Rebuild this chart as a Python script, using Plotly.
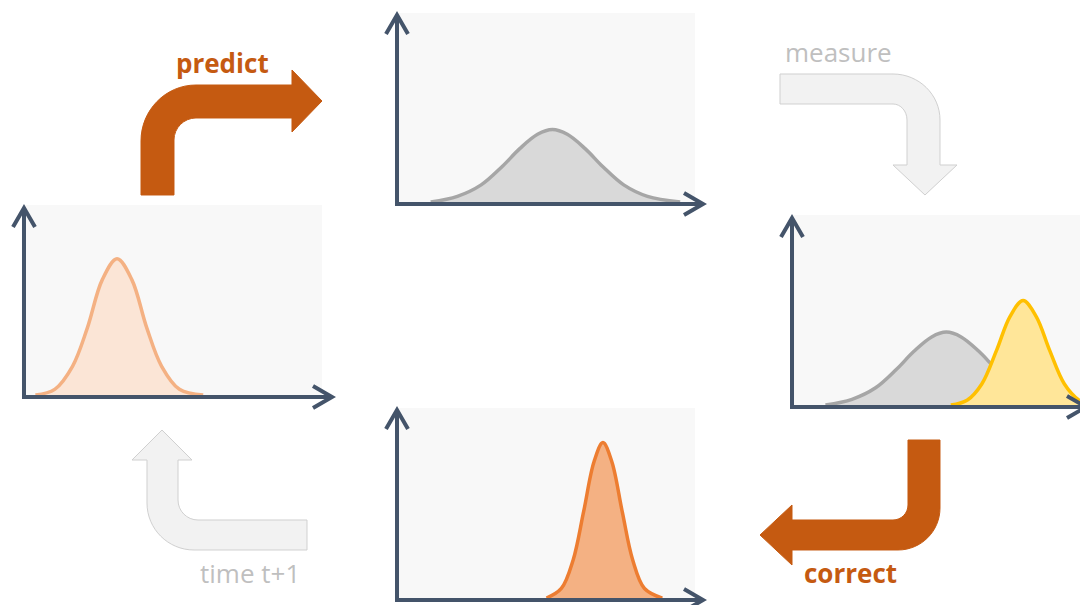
"""
Predict / measure / correct cycle drawn as four small distribution panels
joined by bent arrows.
"""

import plotly.graph_objects as go

# page is 1088x605 but the browser puts an 8px body margin around the plot
PAGE_W, PAGE_H = 1088, 605
OFF = 8
W, H = PAGE_W - OFF, PAGE_H - OFF

# Curve samples (x on a 0..10 panel scale, y on 0..1)
estimate_x = [0.35, 1.0, 1.6, 2.1, 2.6, 3.1, 3.6, 4.1, 4.6, 5.2, 6.0]
estimate_y = [0.01, 0.04, 0.16, 0.36, 0.61, 0.72, 0.61, 0.36, 0.16, 0.04, 0.01]

predicted_x = [1.1, 2.0, 2.8, 3.5, 4.1, 4.7, 5.2, 5.7, 6.3, 6.9, 7.6, 8.4, 9.5]
predicted_y = [0.01, 0.04, 0.10, 0.195, 0.29, 0.365, 0.39, 0.365, 0.29, 0.195, 0.10, 0.04, 0.01]

measured_x = [5.35, 5.9, 6.4, 6.9, 7.35, 7.8, 8.25, 8.7, 9.2, 9.7, 10.0]
measured_y = [0.01, 0.035, 0.12, 0.295, 0.47, 0.555, 0.47, 0.295, 0.12, 0.035, 0.015]

corrected_x = [5.0, 5.5, 5.9, 6.25, 6.6, 6.9, 7.2, 7.55, 7.9, 8.3, 8.9]
corrected_y = [0.01, 0.06, 0.21, 0.46, 0.72, 0.82, 0.72, 0.46, 0.21, 0.06, 0.01]

step_labels = ['predict', 'measure', 'correct', 'time t+1']

ORANGE_DARK = '#C55A11'
AXIS_COLOR = '#44546A'
LIGHT_FILL = '#F2F2F2'
LIGHT_LINE = '#D0D0D0'
LIGHT_TEXT = '#BFBFBF'


def px_x(x):
    return (x - OFF) / W


def px_y(y):
    return 1 - (y - OFF) / H


def pt(x, y):
    """Page pixel position -> paper coordinates string."""
    return f"{px_x(x):.5f},{px_y(y):.5f}"


def arc(p0, c, p1, k=0.552):
    """Cubic bezier from p0 to p1 bending round corner c."""
    c1 = (p0[0] + k * (c[0] - p0[0]), p0[1] + k * (c[1] - p0[1]))
    c2 = (p1[0] + k * (c[0] - p1[0]), p1[1] + k * (c[1] - p1[1]))
    return f"C{pt(*c1)} {pt(*c2)} {pt(*p1)}"


def poly(points):
    return " ".join(f"L{pt(*p)}" for p in points)


# panel boxes in page pixels: (left, right, top, bottom)
panels = {
    'x': (25, 322, 205, 397),
    'x2': (398, 695, 13, 204),
    'x3': (793, 1088, 215, 407),
    'x4': (398, 695, 408, 600),
}

fig = go.Figure()


def add_curve(xs, ys, axis, line, fill):
    n = '' if axis == 'x' else axis[1:]
    fig.add_trace(go.Scatter(
        x=xs, y=ys, mode='lines', line=dict(color=line, width=3.5, shape='spline'),
        fill='tozeroy', fillcolor=fill, hoverinfo='skip', showlegend=False,
        xaxis='x' + n, yaxis='y' + n
    ))


add_curve(estimate_x, estimate_y, 'x', '#F4B183', '#FBE5D6')
add_curve(predicted_x, predicted_y, 'x2', '#A6A6A6', '#D9D9D9')
add_curve(predicted_x, predicted_y, 'x3', '#A6A6A6', '#D9D9D9')
add_curve(measured_x, measured_y, 'x3', '#FFC000', '#FFE699')
add_curve(corrected_x, corrected_y, 'x4', '#ED7D31', '#F4B183')

layout_axes = {}
for name, (l, r, t, b) in panels.items():
    n = name[1:]
    layout_axes['xaxis' + n] = dict(domain=[px_x(l), min(px_x(r), 1)], range=[0, 10], visible=False,
                                    anchor='y' + n, fixedrange=True)
    layout_axes['yaxis' + n] = dict(domain=[px_y(b), px_y(t)], range=[0, 1], visible=False,
                                    anchor='x' + n, fixedrange=True)

shapes = []

# axis arrows for every panel: (x of y-axis, y of x-axis, top tip, right tip)
axis_lines = [(24, 397, 208, 332), (397, 204, 15, 703), (792, 407, 218, 1086), (397, 600, 410, 703)]
for x0, y0, top, right in axis_lines:
    path = (f"M{pt(x0, top)} L{pt(x0, y0)} L{pt(right, y0)} "
            f"M{pt(x0 - 11, top + 19)} L{pt(x0, top)} L{pt(x0 + 11, top + 19)} "
            f"M{pt(right - 19, y0 - 11)} L{pt(right, y0)} L{pt(right - 19, y0 + 11)}")
    shapes.append(dict(type='path', xref='paper', yref='paper', path=path,
                       line=dict(color=AXIS_COLOR, width=4)))

# predict arrow
predict_path = (f"M{pt(141, 195)} L{pt(141, 141)} " + arc((141, 141), (141, 85), (196, 85)) + " "
                + poly([(292, 85), (292, 70), (322, 101), (292, 132), (292, 118), (196, 118)]) + " "
                + arc((196, 118), (174, 118), (174, 140)) + f" L{pt(174, 195)} Z")
# measure arrow
measure_path = (f"M{pt(780, 74)} L{pt(893, 74)} " + arc((893, 74), (940, 74), (940, 120)) + " "
                + poly([(940, 165), (957, 165), (925, 195), (893, 165), (907, 165), (907, 120)]) + " "
                + arc((907, 120), (907, 104), (893, 104)) + f" L{pt(780, 104)} Z")
# correct arrow
correct_path = (f"M{pt(908, 440)} L{pt(940, 440)} L{pt(940, 508)} " + arc((940, 508), (940, 550), (898, 550)) + " "
                + poly([(792, 550), (792, 565), (760, 535), (792, 505), (792, 520), (893, 520)]) + " "
                + arc((893, 520), (908, 520), (908, 505)) + " Z")
# time step arrow
time_path = (f"M{pt(307, 520)} L{pt(198, 520)} " + arc((198, 520), (178, 520), (178, 500)) + " "
             + poly([(178, 460), (192, 460), (162, 430), (132, 460), (147, 460), (147, 503)]) + " "
             + arc((147, 503), (147, 550), (194, 550)) + f" L{pt(307, 550)} Z")

for path, fill, line in [(predict_path, ORANGE_DARK, ORANGE_DARK), (measure_path, LIGHT_FILL, LIGHT_LINE),
                         (correct_path, ORANGE_DARK, ORANGE_DARK), (time_path, LIGHT_FILL, LIGHT_LINE)]:
    shapes.append(dict(type='path', xref='paper', yref='paper', path=path, fillcolor=fill,
                       line=dict(color=line, width=1)))

# step labels
label_pos = [(222, 63, ORANGE_DARK, True), (838, 52, LIGHT_TEXT, False),
             (850, 573, ORANGE_DARK, True), (250, 573, LIGHT_TEXT, False)]
annotations = []
for text, (x, y, color, bold) in zip(step_labels, label_pos):
    annotations.append(dict(
        x=px_x(x), y=px_y(y), xref='paper', yref='paper', showarrow=False,
        text=f"<b>{text}</b>" if bold else text,
        font=dict(family='Open Sans', size=26, color=color),
        xanchor='center', yanchor='middle'
    ))

fig.update_layout(
    width=W, height=H,
    margin=dict(l=0, r=0, t=0, b=0),
    paper_bgcolor='white',
    plot_bgcolor='#F8F8F8',
    shapes=shapes,
    annotations=annotations,
    showlegend=False,
    **layout_axes
)

fig.write_html("out.html")
